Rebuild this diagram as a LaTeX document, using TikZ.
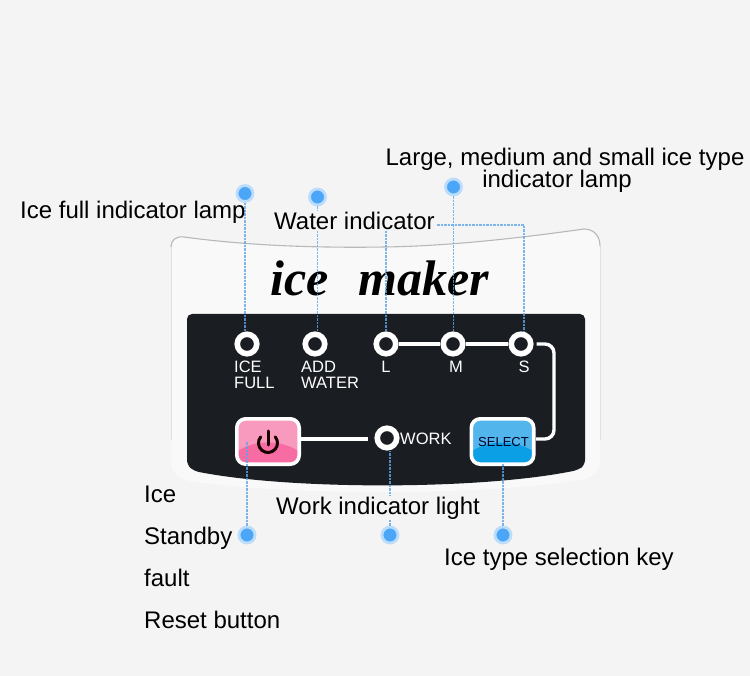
\documentclass[tikz,border=0pt]{standalone}
\usepackage{fontspec}
\setmainfont{Liberation Sans}
\newfontfamily\scriptf{Liberation Serif}
\usetikzlibrary{calc}
\definecolor{bgc}{HTML}{F4F4F4}
\definecolor{bodyc}{HTML}{F9F9F9}
\definecolor{panelc}{HTML}{1A1D22}
\definecolor{dashc}{HTML}{5FA4EA}
\definecolor{dotc}{HTML}{4BA6F8}
\definecolor{halo}{HTML}{BBDCFA}
\definecolor{pinkA}{HTML}{F79ABD}
\definecolor{pinkB}{HTML}{F76CA3}
\definecolor{blueA}{HTML}{52B6EC}
\definecolor{blueB}{HTML}{0BA0E6}
\tikzset{
  x=1pt,y=-1pt,
  lab/.style={font=\fontsize{24}{26}\selectfont,text=black,inner sep=0pt,align=left},
  labf/.style={lab,fill=bgc,inner xsep=1pt,inner ysep=1pt},
  lamp/.style={circle,draw=white,line width=5.6pt,fill=panelc,minimum size=19.5pt,inner sep=0pt},
  paneltxt/.style={font=\fontsize{16.5}{16.5}\selectfont,text=white,inner sep=0pt,align=left},
  wire/.style={draw=white,line width=3.4pt},
  leader/.style={draw=dashc,line width=1.2pt,dash pattern=on 2.5pt off 1pt,opacity=.8},
  bluedot/.style={circle,fill=dotc,draw=halo,line width=2.8pt,minimum size=16pt,inner sep=0pt},
  btn/.style={rounded corners=9pt,draw=white,line width=3.6pt}
}
\begin{document}
\begin{tikzpicture}
\useasboundingbox (0,0) rectangle (750,676);
\fill[bgc] (0,0) rectangle (750,676);
% white body
\fill[bodyc]
  (171,462) -- (171,247) .. controls (171,240) and (176,236) .. (184,237)
  .. controls (250,246) and (320,248) .. (385,247)
  .. controls (450,246) and (520,238) .. (584,229)
  .. controls (594,229) and (600,236) .. (600,246) -- (600,462)
  .. controls (600,474) and (590,478) .. (580,480)
  .. controls (480,496) and (290,496) .. (190,481)
  .. controls (180,479) and (171,474) .. (171,462) -- cycle;
\draw[draw=black!12,line width=1pt] (171,440) -- (171,247);
\draw[draw=black!12,line width=1pt] (600,246) -- (600,440);
\draw[draw=black!28,line width=1.1pt]
  (171,247) .. controls (171,240) and (176,236) .. (184,237)
  .. controls (250,246) and (320,248) .. (385,247)
  .. controls (450,246) and (520,238) .. (584,229)
  .. controls (594,229) and (600,236) .. (600,246);
% title
\node (title) at (380,296) [anchor=base,font=\scriptf\itshape\bfseries\fontsize{50}{50}\selectfont,inner sep=0pt] {ice\hspace{30pt}maker};
% black panel
\fill[panelc,rounded corners=5pt] (187,314) -- (585,314) -- (585,465) -- (578,470)
  .. controls (480,490) and (290,490) .. (194,471) -- (187,465) -- cycle;
% lamps
\node[lamp] (ice) at (247,344) {};
\node[lamp] (add) at (315,344) {};
\node[lamp] (lL) at (386,344) {};
\node[lamp] (lM) at (453,344) {};
\node[lamp] (lS) at (521,344) {};
\node[lamp] (work) at (387,438) {};
% panel text
\node[paneltxt,anchor=north west] (t1) at (234,361) {ICE\\[-1pt]FULL};
\node[paneltxt,anchor=north west] (t2) at (301,361) {ADD\\[-1pt]WATER};
\node[paneltxt] (t3) at (386,367) {L};
\node[paneltxt] (t4) at (456,367) {M};
\node[paneltxt] (t5) at (524,367) {S};
\node[paneltxt,anchor=west] (t6) at (400,439) {WORK};
% buttons
\node[minimum width=62pt,minimum height=45pt,inner sep=0pt] (pow) at (268,441.5) {};
\node[minimum width=62pt,minimum height=45pt,inner sep=0pt] (sel) at (502.5,441.5) {};
\begin{scope}
  \clip[rounded corners=9pt] (pow.north west) rectangle (pow.south east);
  \fill[pinkA] (pow.north west) rectangle (pow.south east);
  \fill[pinkB] ($(pow.west)+(0,10)$) .. controls ++(18,-12) and ++(-18,-12) .. ($(pow.east)+(0,10)$) -- (pow.south east) -- (pow.south west) -- cycle;
\end{scope}
\draw[btn] (pow.north west) rectangle (pow.south east);
\begin{scope}
  \clip[rounded corners=9pt] (sel.north west) rectangle (sel.south east);
  \fill[blueA] (sel.north west) rectangle (sel.south east);
  \fill[blueB] ($(sel.west)+(0,10)$) .. controls ++(18,-12) and ++(-18,-12) .. ($(sel.east)+(0,10)$) -- (sel.south east) -- (sel.south west) -- cycle;
\end{scope}
\draw[btn] (sel.north west) rectangle (sel.south east);
\node[font=\fontsize{13}{13}\selectfont,text=black!85!blue,inner sep=0pt] (selt) at (503.5,442) {SELECT};
% power glyph
\draw[black!90!red,line width=3pt,line cap=round] (268,431) -- (268,445);
\draw[black!90!red,line width=3pt,line cap=round] (260.7,436.9) arc[start angle=140,end angle=400,radius=9.5pt];
% white wires
\draw[wire] (lL) -- (lM);
\draw[wire] (lM) -- (lS);
\coordinate (wsR) at (554,344);
\coordinate (wsE) at (536,439);
\draw[wire,rounded corners=9pt] (lS.east) ++(3,0) -- (wsR) -- (wsR |- wsE) -- (wsE);
\coordinate (wpE) at (301,439);
\coordinate (wpW) at (368,439);
\draw[wire] (wpE) -- (wpW);
% blue dots
\node[bluedot] (d1) at (245,193.5) {};
\node[bluedot] (d2) at (317.5,197) {};
\node[bluedot] (d3) at (453.5,187) {};
\node[bluedot] (d4) at (247,535) {};
\node[bluedot] (d5) at (390,535) {};
\node[bluedot] (d6) at (503,535) {};
% dashed leaders
\coordinate (cL) at (386,225);
\coordinate (cS) at (524,225);
\draw[leader] (d1) -- (d1 |- ice.north);
\draw[leader] (d2) -- (d2 |- add.north);
\draw[leader] (d3) -- (d3 |- lM.north);
\draw[leader] (lL.north) -- (cL) -- (cS) -- (cS |- lS.north);
\draw[leader] (d4) -- (d4 |- pow.center);
\draw[leader] (d5) -- (d5 |- work.south);
\draw[leader] (d6) -- (d6 |- sel.south);
% outer labels
\node[lab,anchor=west] (a) at (20,212) {Ice full indicator lamp};
\node[labf,anchor=west] (b) at (273,221) {Water indicator};
\node[lab,align=center] (c) at (565,170) {Large, medium and small ice type\\[-4pt]indicator lamp\hspace{16pt}\null};
\node[labf,anchor=west] (d) at (275,508) {Work indicator light};
\node[lab,anchor=west] (e) at (444,559) {Ice type selection key};
\node[lab,anchor=base west] (f1) at (144,502) {Ice};
\node[lab,anchor=base west] (f2) at (144,544) {Standby};
\node[lab,anchor=base west] (f3) at (144,586) {fault};
\node[lab,anchor=base west] (f4) at (144,628) {Reset button};
\end{tikzpicture}
\end{document}
